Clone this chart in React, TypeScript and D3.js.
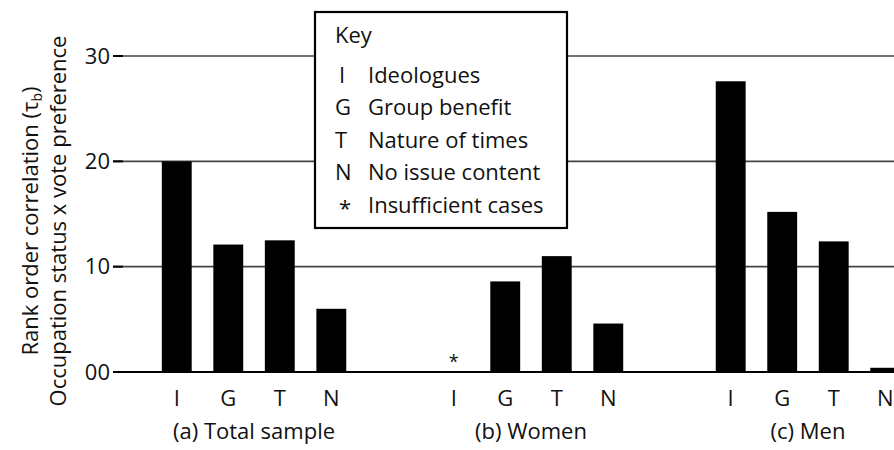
import React from 'react';
import { scaleBand, scaleLinear } from 'd3';

const groups = ['(a) Total sample', '(b) Women', '(c) Men'];
const categories = ['I', 'G', 'T', 'N'];
// null = insufficient cases
const totalValues = [20.0, 12.1, 12.5, 6.0];
const womenValues: (number | null)[] = [null, 8.6, 11.0, 4.6];
const menValues = [27.6, 15.2, 12.4, 0.4];
const yTicks = [0, 10, 20, 30];
const yTickLabels = ['00', '10', '20', '30'];
const keyCodes = ['I', 'G', 'T', 'N', '*'];
const keyLabels = ['Ideologues', 'Group benefit', 'Nature of times', 'No issue content', 'Insufficient cases'];

const seriesByGroup = [totalValues, womenValues, menValues];

const W = 894;
const H = 450;
const FONT = '"Open Sans", "Noto Sans", sans-serif';
const FS = 22;

const App = () => {
  const y = scaleLinear().domain([0, 30]).range([372, 56]);

  const x0 = scaleBand<string>()
    .domain(groups)
    .range([151, 911])
    .paddingInner(0.256)
    .paddingOuter(0);

  const x1 = scaleBand<string>()
    .domain(categories)
    .range([0, x0.bandwidth()])
    .paddingInner(0.42)
    .paddingOuter(0.21);

  const axisLeft = 113;

  return (
    <svg width={W} height={H} style={{ position: 'absolute', left: 0, top: 0, background: '#fff' }}>
      {/* grid lines */}
      {yTicks.filter((t) => t > 0).map((t) => (
        <line key={t} x1={axisLeft} x2={W} y1={y(t)} y2={y(t)} stroke="#444" strokeWidth={1.6} />
      ))}

      {/* tick marks + labels */}
      {yTicks.map((t, i) => (
        <g key={t}>
          <line x1={axisLeft} x2={axisLeft + 10} y1={y(t)} y2={y(t)} stroke="#000" strokeWidth={2} />
          <text
            x={110}
            y={y(t)}
            dy="0.35em"
            textAnchor="end"
            fontFamily={FONT}
            fontSize={FS}
            fill="#111"
          >
            {yTickLabels[i]}
          </text>
        </g>
      ))}

      {/* y axis title */}
      <g transform="translate(0,221) rotate(-90)">
        <text x={0} y={38} textAnchor="middle" fontFamily={FONT} fontSize={FS} fill="#111">
          Rank order correlation (τ
          <tspan fontSize={14} dy={4}>b</tspan>
          <tspan dy={-4}>)</tspan>
        </text>
        <text x={0} y={66} textAnchor="middle" fontFamily={FONT} fontSize={FS} fill="#111">
          Occupation status x vote preference
        </text>
      </g>

      {/* bars */}
      {groups.map((g, gi) => (
        <g key={g} transform={`translate(${x0(g)},0)`}>
          {categories.map((c, ci) => {
            const v = seriesByGroup[gi][ci];
            const bx = x1(c) as number;
            const cx = bx + x1.bandwidth() / 2;
            return (
              <g key={c}>
                {v === null ? (
                  <text x={cx} y={y(0) - 4} textAnchor="middle" fontFamily={FONT} fontSize={18} fill="#111">
                    *
                  </text>
                ) : (
                  <rect x={bx} y={y(v)} width={x1.bandwidth()} height={y(0) - y(v)} fill="#000" />
                )}
                <text x={cx} y={398} dy="0.35em" textAnchor="middle" fontFamily={FONT} fontSize={FS} fill="#111">
                  {c}
                </text>
              </g>
            );
          })}
          <text
            x={x0.bandwidth() / 2}
            y={431}
            dy="0.35em"
            textAnchor="middle"
            fontFamily={FONT}
            fontSize={FS}
            fill="#111"
          >
            {g}
          </text>
        </g>
      ))}

      {/* baseline */}
      <line x1={axisLeft} x2={W} y1={y(0)} y2={y(0)} stroke="#000" strokeWidth={2} />

      {/* key */}
      <rect x={315} y={12} width={252} height={216} fill="#fff" stroke="#000" strokeWidth={2.2} />
      <text x={335} y={35} dy="0.35em" fontFamily={FONT} fontSize={FS} fill="#111">
        Key
      </text>
      {keyCodes.map((k, i) => (
        <g key={k} transform={`translate(0,${75 + i * 32.5})`}>
          <text x={k === 'I' || k === '*' ? 339 : 335} y={k === '*' ? 3 : 0} dy="0.35em" fontFamily={FONT} fontSize={FS} fill="#111">
            {k}
          </text>
          <text x={368} y={0} dy="0.35em" fontFamily={FONT} fontSize={FS} fill="#111">
            {keyLabels[i]}
          </text>
        </g>
      ))}
    </svg>
  );
};

export default App;
